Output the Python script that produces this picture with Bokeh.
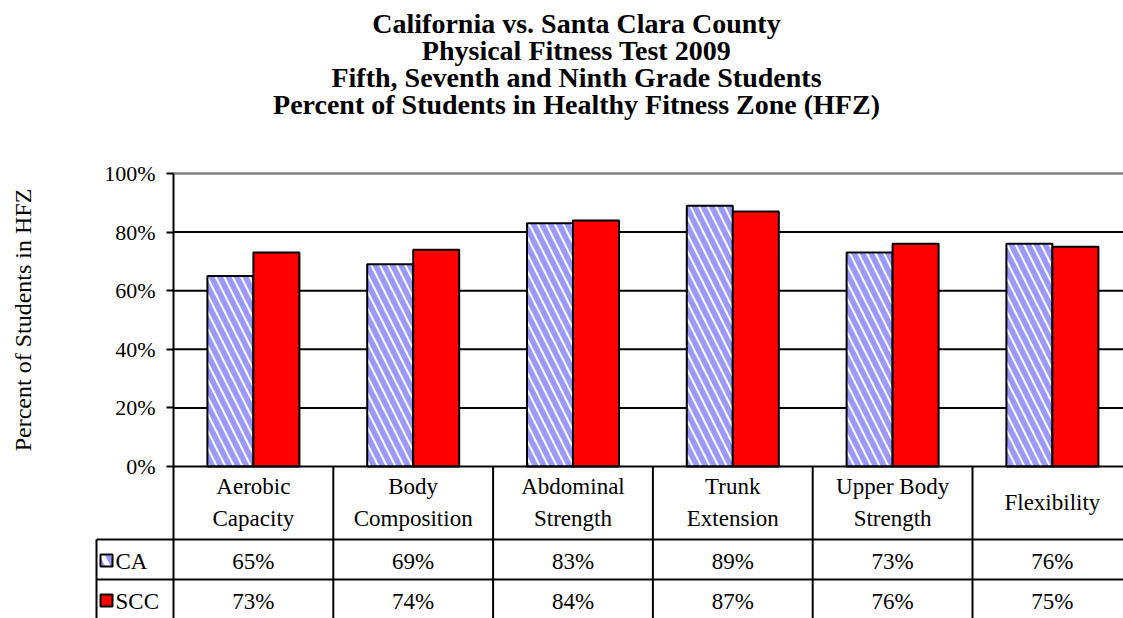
import numpy as np
from bokeh.plotting import figure
from bokeh.models import Range1d, FixedTicker, PrintfTickFormatter
from bokeh.core.properties import value
from bokeh.embed import file_html
from bokeh.resources import INLINE

# ---------------- data ----------------
title_lines = [
    "California vs. Santa Clara County",
    "Physical Fitness Test 2009",
    "Fifth, Seventh and Ninth Grade Students",
    "Percent of Students in Healthy Fitness Zone (HFZ)",
]
categories = ["Aerobic\nCapacity", "Body\nComposition", "Abdominal\nStrength",
              "Trunk\nExtension", "Upper Body\nStrength", "Flexibility"]
series_names = ["CA", "SCC"]
ca_values = [65, 69, 83, 89, 73, 76]
scc_values = [73, 74, 84, 87, 76, 75]
y_ticks = [0, 20, 40, 60, 80, 100]
y_axis_title = "Percent of Students in HFZ"

# ---------------- layout helpers (picture pixel -> data) ----------------
W, H = 1123, 618
AX_X, CAT_W, ZERO_Y, PX_PER_PCT = 173.0, 159.8, 466.0, 2.93


def px_x(X):
    return (X - AX_X) / CAT_W


def px_y(Y):
    return (ZERO_Y - Y) / PX_PER_PCT


FONT = value("Liberation Serif")
x_start, x_end = px_x(0), px_x(W)
y_start, y_end = px_y(H), px_y(0)

p = figure(width=W, height=H, output_backend="svg", toolbar_location=None,
           x_range=Range1d(x_start, x_end), y_range=Range1d(y_start, y_end),
           x_axis_location=None, min_border=0,
           background_fill_color="white", border_fill_color="white")
p.outline_line_color = None
p.grid.visible = False

n = len(categories)
idx = np.arange(n)
x_line_end = x_end + 1

# gridlines
grid_ys = [t for t in y_ticks if 0 < t < max(y_ticks)]
p.segment(x0=[0] * len(grid_ys), x1=[x_line_end] * len(grid_ys), y0=grid_ys, y1=grid_ys,
          line_color="black", line_width=2)
p.segment(x0=[0], x1=[x_line_end], y0=[max(y_ticks)], y1=[max(y_ticks)],
          line_color="#808080", line_width=2.5)

# bars
bar_w = 46 / CAT_W
p.vbar(x=idx + 0.5 - bar_w / 2, top=ca_values, bottom=0, width=bar_w,
       fill_color="white", line_color="black", line_width=2,
       hatch_pattern="left_diagonal_line", hatch_color="#9999FF",
       hatch_scale=17, hatch_weight=5.5)
p.vbar(x=idx + 0.5 + bar_w / 2, top=scc_values, bottom=0, width=bar_w,
       fill_color="#FF0000", line_color="black", line_width=2)

# data table lines
row1, row2 = px_y(539), px_y(579)
leg_left = px_x(96)
p.segment(x0=[0, leg_left, leg_left], x1=[x_line_end] * 3, y0=[0, row1, row2], y1=[0, row1, row2],
          line_color="black", line_width=2)
p.segment(x0=list(idx + 1), x1=list(idx + 1), y0=[0] * n, y1=[y_start - 1] * n,
          line_color="black", line_width=2)
p.segment(x0=[leg_left], x1=[leg_left], y0=[row1], y1=[y_start - 1],
          line_color="black", line_width=2)

# table texts
p.text(x=idx + 0.5, y=[px_y(502)] * n, text=categories, text_align="center",
       text_baseline="middle", text_font=FONT, text_font_size="23px",
       text_line_height=1.25, text_color="black")
p.text(x=idx + 0.5, y=[px_y(561)] * n, text=[f"{v}%" for v in ca_values],
       text_align="center", text_baseline="middle", text_font=FONT,
       text_font_size="23px", text_color="black")
p.text(x=idx + 0.5, y=[px_y(601)] * n, text=[f"{v}%" for v in scc_values],
       text_align="center", text_baseline="middle", text_font=FONT,
       text_font_size="23px", text_color="black")

# legend keys in table
p.rect(x=[px_x(106)], y=[px_y(560)], width=12, height=12, width_units="screen",
       height_units="screen", fill_color="white", line_color="black", line_width=2,
       hatch_pattern="left_diagonal_line", hatch_color="#9999FF", hatch_scale=22, hatch_weight=5)
p.rect(x=[px_x(106)], y=[px_y(600)], width=12, height=12, width_units="screen",
       height_units="screen", fill_color="#FF0000", line_color="black", line_width=2)
p.text(x=[px_x(115)] * 2, y=[px_y(561), px_y(601)], text=series_names, text_align="left",
       text_baseline="middle", text_font=FONT, text_font_size="23px", text_color="black")

# title
p.text(x=[px_x(576)] * 4, y=[px_y(22.5), px_y(49.5), px_y(76.5), px_y(103.5)], text=title_lines,
       text_align="center", text_baseline="middle", text_font=FONT,
       text_font_style="bold", text_font_size="28px", text_color="black")

# y-axis title
p.text(x=[px_x(22)], y=[50], text=[y_axis_title], angle=np.pi / 2, text_align="center",
       text_baseline="middle", text_font=FONT, text_font_size="24px", text_color="black")

# y axis
ax = p.yaxis[0]
ax.fixed_location = 0
ax.ticker = FixedTicker(ticks=y_ticks)
ax.formatter = PrintfTickFormatter(format="%d%%")
ax.bounds = (y_start - 1, max(y_ticks))
ax.axis_line_width = 2
ax.axis_line_color = "black"
ax.major_tick_line_width = 2
ax.major_tick_out = 7
ax.major_tick_in = 0
ax.minor_tick_line_color = None
ax.major_label_text_font = "Liberation Serif"
ax.major_label_text_font_size = "22px"
ax.major_label_text_color = "black"
ax.major_label_standoff = 11

open("out.html", "w").write(file_html(p, INLINE))
